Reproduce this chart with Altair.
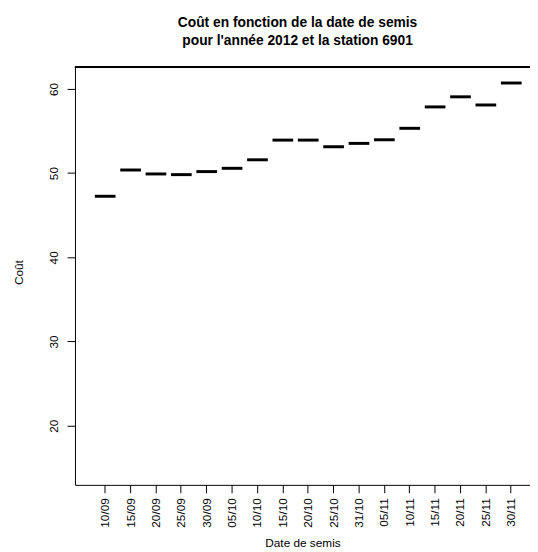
import altair as alt
import pandas as pd

categories = ["10/09", "15/09", "20/09", "25/09", "30/09", "05/10", "10/10", "15/10",
              "20/10", "25/10", "31/10", "05/11", "10/11", "15/11", "20/11", "25/11", "30/11"]
values = [47.25, 50.37, 49.90, 49.82, 50.18, 50.57, 51.58, 53.92,
          53.92, 53.14, 53.53, 53.96, 55.32, 57.86, 59.06, 58.09, 60.70]
y_ticks = [20, 30, 40, 50, 60]
title_lines = ["Coût en fonction de la date de semis", " pour l'année 2012 et la station 6901"]

df = pd.DataFrame({"date": categories, "cout": values})

FONT = "Liberation Sans"
W, H = 462, 424

base = alt.Chart(df)

ticks = base.mark_tick(color="black", thickness=3, size=21, opacity=1).encode(
    x=alt.X("date:N", sort=categories,
            scale=alt.Scale(paddingInner=0, paddingOuter=0.465, align=0.743),
            axis=alt.Axis(title="Date de semis", labelAngle=-90, labelAlign="right",
                          labelBaseline="middle", labelPadding=5, tickSize=8,
                          titleY=59, titleBaseline="middle", titleAnchor="middle")),
    y=alt.Y("cout:Q", scale=alt.Scale(domain=[12.98, 62.57], nice=False, zero=False),
            axis=alt.Axis(title="Coût", values=y_ticks, labelAngle=-90, labelAlign="center",
                          labelBaseline="alphabetic", labelPadding=10, tickSize=8,
                          titleAngle=-90, titleX=-57, titleY=208, titleAlign="center",
                          titleBaseline="middle", grid=False)),
)

top_line = base.mark_rule(color="black", strokeWidth=1).encode(
    x=alt.value(0), x2=alt.value(W), y=alt.value(0)
)

chart = (top_line + ticks).properties(
    width=W, height=H,
    autosize=alt.AutoSizeParams(type="none"),
    padding={"left": 68, "top": 56, "right": 0, "bottom": 64},
    title=alt.TitleParams(text=title_lines, font=FONT, fontSize=14, fontWeight="bold",
                          color="black", anchor="middle", dx=-5, baseline="bottom",
                          offset=5, lineHeight=18),
).configure_view(stroke=None).configure_axis(
    labelFont=FONT, titleFont=FONT, labelFontSize=12, titleFontSize=12,
    labelColor="black", titleColor="black", titleFontWeight="normal",
    domainColor="black", tickColor="black", grid=False,
)

chart.save("out.html", embed_options={"renderer": "svg", "actions": False})
